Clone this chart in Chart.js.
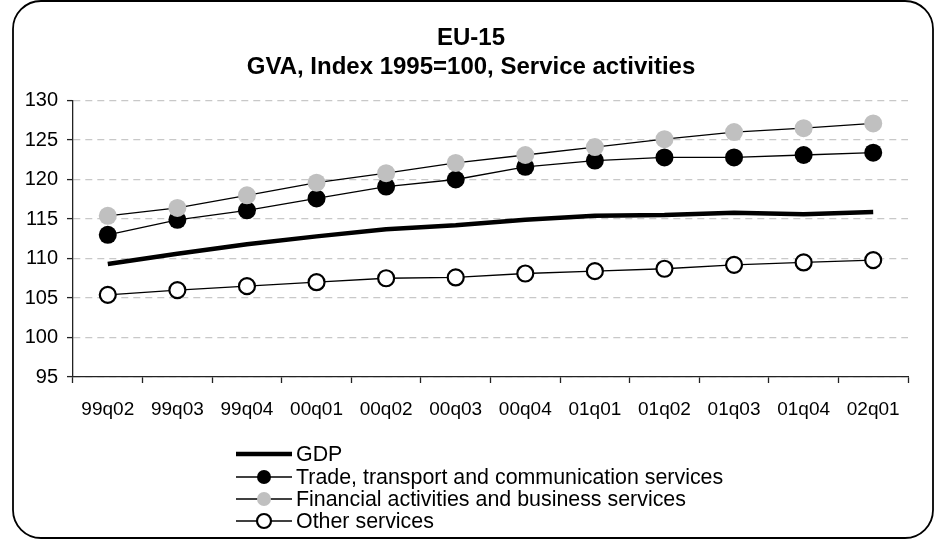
<!DOCTYPE html>
<html>
<head>
<meta charset="utf-8">
<title>EU-15 GVA service activities</title>
<script src="https://cdn.jsdelivr.net/npm/chart.js@4.4.1/dist/chart.umd.min.js"></script>
<style>
  html, body { margin: 0; padding: 0; background: #fff; }
  canvas { display: block; }
</style>
</head>
<body>
<canvas id="gvaChart" width="938" height="540"></canvas>
<script>
const quarters = ['99q02', '99q03', '99q04', '00q01', '00q02', '00q03', '00q04', '01q01', '01q02', '01q03', '01q04', '02q01'];
const gdp = [109.3, 110.6, 111.8, 112.8, 113.7, 114.2, 114.9, 115.4, 115.5, 115.8, 115.6, 115.9];
const trade = [113.0, 114.9, 116.1, 117.6, 119.1, 120.0, 121.6, 122.4, 122.8, 122.8, 123.1, 123.4];
const financial = [115.4, 116.4, 118.0, 119.6, 120.8, 122.1, 123.1, 124.1, 125.1, 126.0, 126.5, 127.1];
const other = [105.4, 106.0, 106.5, 107.0, 107.5, 107.6, 108.1, 108.4, 108.7, 109.2, 109.5, 109.8];
const yTicks = [95, 100, 105, 110, 115, 120, 125, 130];
const titleLines = ['EU-15', 'GVA, Index 1995=100, Service activities'];

const FONT = '"Liberation Sans", Arial, sans-serif';
const GREY = '#c0c0c0';
const AXIS = '#222';

// rounded frame round the whole chart, like the spreadsheet chart area
const framePlugin = {
  id: 'frame',
  beforeDraw(chart) {
    const ctx = chart.ctx;
    ctx.save();
    ctx.fillStyle = '#fff';
    ctx.fillRect(0, 0, chart.width, chart.height);
    ctx.beginPath();
    ctx.roundRect(13, 1, 920, 537, 28);
    ctx.lineWidth = 1.8;
    ctx.strokeStyle = '#000';
    ctx.stroke();
    ctx.restore();
  },
};

// title centred on the frame, not on the plot area
const frameTitle = {
  id: 'frameTitle',
  afterDraw(chart, args, opts) {
    const ctx = chart.ctx;
    ctx.save();
    ctx.font = 'bold ' + opts.fontSize + 'px ' + FONT;
    ctx.textAlign = 'center';
    ctx.textBaseline = 'middle';
    ctx.fillStyle = '#000';
    opts.lines.forEach((t, i) => ctx.fillText(t, opts.x, opts.y + i * opts.lineHeight));
    ctx.restore();
  },
};

// legend with a line sample and the marker in its middle
const lineLegend = {
  id: 'lineLegend',
  afterDraw(chart, args, opts) {
    const ctx = chart.ctx;
    ctx.save();
    ctx.font = opts.fontSize + 'px ' + FONT;
    ctx.textBaseline = 'middle';
    chart.data.datasets.forEach((ds, i) => {
      const y = opts.rows[i];
      ctx.beginPath();
      ctx.moveTo(opts.x, y);
      ctx.lineTo(opts.x + opts.sample, y);
      ctx.lineWidth = ds.borderWidth;
      ctx.strokeStyle = ds.borderColor;
      ctx.stroke();
      if (ds.pointRadius > 0) {
        ctx.beginPath();
        ctx.arc(opts.x + opts.sample / 2, y, opts.markerRadius, 0, Math.PI * 2);
        ctx.fillStyle = ds.pointBackgroundColor;
        ctx.fill();
        if (ds.pointBorderWidth > 0) {
          ctx.lineWidth = ds.pointBorderWidth;
          ctx.strokeStyle = ds.pointBorderColor;
          ctx.stroke();
        }
      }
      ctx.fillStyle = '#000';
      ctx.fillText(ds.label, opts.x + opts.sample + 4, y + 1);
    });
    ctx.restore();
  },
};

new Chart(document.getElementById('gvaChart'), {
  type: 'line',
  data: {
    labels: quarters,
    datasets: [
      { label: 'GDP', data: gdp, borderColor: '#000', borderWidth: 4.5, pointRadius: 0, order: 3 },
      { label: 'Trade, transport and communication services', data: trade, borderColor: '#000', borderWidth: 1.3,
        pointRadius: 9, pointBackgroundColor: '#000', pointBorderColor: '#000', pointBorderWidth: 0, order: 2 },
      { label: 'Financial activities and business services', data: financial, borderColor: '#000', borderWidth: 1.3,
        pointRadius: 9, pointBackgroundColor: GREY, pointBorderColor: GREY, pointBorderWidth: 0, order: 1 },
      { label: 'Other services', data: other, borderColor: '#000', borderWidth: 1.3,
        pointRadius: 8, pointBackgroundColor: '#fff', pointBorderColor: '#000', pointBorderWidth: 2.2, order: 4 },
    ],
  },
  options: {
    responsive: false,
    animation: false,
    devicePixelRatio: 1,
    layout: { padding: { top: 100.5, left: 13, right: 30, bottom: 0 } },
    elements: { line: { tension: 0, borderJoinStyle: 'round' } },
    plugins: {
      legend: { display: false },
      tooltip: { enabled: false },
      title: { display: false },
      frameTitle: { lines: titleLines, x: 471, y: 38.5, lineHeight: 28.5, fontSize: 24 },
      lineLegend: { x: 236, sample: 56, markerRadius: 7, fontSize: 21.4, rows: [454, 477, 499, 521] },
    },
    scales: {
      x: {
        offset: true,
        afterFit(scale) { scale.height = 163; },
        grid: { offset: true, drawOnChartArea: false, drawTicks: true, tickLength: 6, tickColor: AXIS, tickWidth: 1.3 },
        border: { color: AXIS, width: 1.3 },
        ticks: { color: '#000', padding: 15, maxRotation: 0, autoSkip: false, font: { family: FONT, size: 19 } },
      },
      y: {
        min: 95,
        max: 130,
        afterFit(scale) { scale.width = 60; },
        afterBuildTicks(scale) { scale.ticks = yTicks.map((v) => ({ value: v })); },
        grid: { color: '#c8c8c8', lineWidth: 1.2, tickLength: 6, tickColor: AXIS, tickWidth: 1.3 },
        border: { color: AXIS, width: 1.3, dash: [7, 5] },
        ticks: { color: '#000', padding: 9, font: { family: FONT, size: 20 } },
      },
    },
  },
  plugins: [framePlugin, frameTitle, lineLegend],
});
</script>
</body>
</html>
